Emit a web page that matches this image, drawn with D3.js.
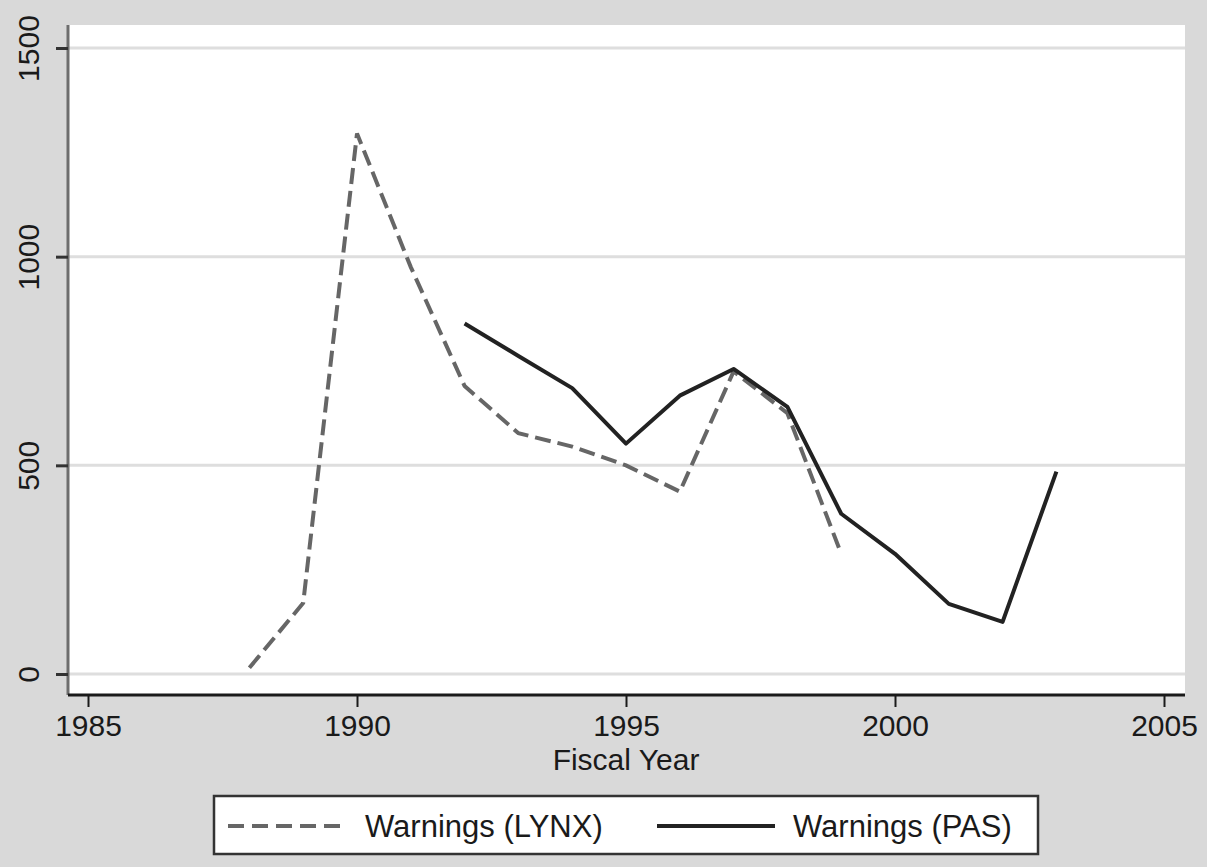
<!DOCTYPE html>
<html>
<head>
<meta charset="utf-8">
<script src="https://cdn.jsdelivr.net/npm/d3@7"></script>
<style>
  body { margin: 0; background: #d9d9d9; }
  text { font-family: "Liberation Sans", Arial, sans-serif; fill: #1a1a1a; }
</style>
</head>
<body>
<div id="chart"></div>
<script>
// data
const lynxYears = [1988, 1989, 1990, 1991, 1992, 1993, 1994, 1995, 1996, 1997, 1998, 1999];
const lynxWarnings = [15, 170, 1295, 975, 690, 577, 545, 500, 437, 725, 625, 288];
const pasYears = [1992, 1993, 1994, 1995, 1996, 1997, 1998, 1999, 2000, 2001, 2002, 2003];
const pasWarnings = [840, 762, 685, 552, 667, 731, 640, 384, 288, 168, 125, 485];
const xTicks = [1985, 1990, 1995, 2000, 2005];
const yTicks = [0, 500, 1000, 1500];
const legendLabels = ["Warnings (LYNX)", "Warnings (PAS)"];

const ctx = {
    w: 1207, h: 867,
    plot: {left: 68, right: 1185, top: 25, bottom: 695},
    fontSize: 30
};

function drawChart() {
    let svg = d3.select("#chart").append("svg")
        .attr("width", ctx.w)
        .attr("height", ctx.h);

    svg.append("rect")
        .attr("width", ctx.w).attr("height", ctx.h)
        .attr("fill", "#d9d9d9");

    // plot region
    svg.append("rect")
        .attr("x", ctx.plot.left)
        .attr("y", ctx.plot.top)
        .attr("width", ctx.plot.right - ctx.plot.left)
        .attr("height", ctx.plot.bottom - ctx.plot.top)
        .attr("fill", "#ffffff");

    let x = d3.scaleLinear().domain([1985, 2005]).range([88, 1164]);
    let y = d3.scaleLinear().domain([0, 1500]).range([674, 48]);

    // grid lines
    svg.append("g").selectAll("line")
        .data(yTicks)
        .enter().append("line")
        .attr("x1", ctx.plot.left).attr("x2", ctx.plot.right)
        .attr("y1", d => y(d)).attr("y2", d => y(d))
        .attr("stroke", "#dedede")
        .attr("stroke-width", 3);

    // y axis
    let yAxis = svg.append("g")
        .attr("transform", "translate(" + ctx.plot.left + ",0)")
        .call(d3.axisLeft(y).tickValues(yTicks).tickSize(12).tickFormat(d3.format("d")));
    yAxis.select(".domain")
        .attr("d", "M0," + ctx.plot.top + "V" + ctx.plot.bottom)
        .attr("stroke", "#6e6e6e")
        .attr("stroke-width", 3);
    yAxis.selectAll(".tick line").attr("stroke", "#333").attr("stroke-width", 3);
    // rotated labels, baseline 29px left of the axis
    yAxis.selectAll(".tick text")
        .attr("font-size", ctx.fontSize)
        .attr("font-family", "Liberation Sans, Arial, sans-serif")
        .attr("fill", "#1a1a1a")
        .attr("transform", "translate(-29,0) rotate(-90)")
        .attr("x", 0)
        .attr("y", 0)
        .attr("dy", 0)
        .attr("text-anchor", "middle");

    // x axis
    let xAxis = svg.append("g")
        .attr("transform", "translate(0," + ctx.plot.bottom + ")")
        .call(d3.axisBottom(x).tickValues(xTicks).tickSize(12).tickPadding(8).tickFormat(d3.format("d")));
    xAxis.select(".domain")
        .attr("d", "M" + ctx.plot.left + ",0H" + ctx.plot.right)
        .attr("stroke", "#1a1a1a")
        .attr("stroke-width", 3);
    xAxis.selectAll(".tick line").attr("stroke", "#1a1a1a").attr("stroke-width", 2);
    xAxis.selectAll(".tick text")
        .attr("font-size", ctx.fontSize)
        .attr("font-family", "Liberation Sans, Arial, sans-serif")
        .attr("fill", "#1a1a1a")
        .attr("dy", "0.71em");

    svg.append("text")
        .attr("x", 626)
        .attr("y", 770)
        .attr("text-anchor", "middle")
        .attr("font-size", ctx.fontSize)
        .text("Fiscal Year");

    // lines
    let line = d3.line()
        .x(d => x(d[0]))
        .y(d => y(d[1]));

    svg.append("path")
        .datum(d3.zip(lynxYears, lynxWarnings))
        .attr("fill", "none")
        .attr("stroke", "#666666")
        .attr("stroke-width", 4)
        .attr("stroke-dasharray", "16,7")
        .attr("d", line);

    svg.append("path")
        .datum(d3.zip(pasYears, pasWarnings))
        .attr("fill", "none")
        .attr("stroke", "#222222")
        .attr("stroke-width", 4)
        .attr("stroke-linejoin", "round")
        .attr("d", line);

    // legend
    let legendG = svg.append("g");
    legendG.append("rect")
        .attr("x", 214).attr("y", 796)
        .attr("width", 824).attr("height", 58)
        .attr("fill", "#ffffff")
        .attr("stroke", "#333333")
        .attr("stroke-width", 2.5);

    legendG.append("line")
        .attr("x1", 228).attr("x2", 348)
        .attr("y1", 826).attr("y2", 826)
        .attr("stroke", "#666666")
        .attr("stroke-width", 4)
        .attr("stroke-dasharray", "16,8");
    legendG.append("text")
        .attr("x", 365).attr("y", 837)
        .attr("font-size", 31)
        .text(legendLabels[0]);

    legendG.append("line")
        .attr("x1", 657).attr("x2", 775)
        .attr("y1", 826).attr("y2", 826)
        .attr("stroke", "#222222")
        .attr("stroke-width", 4);
    legendG.append("text")
        .attr("x", 793).attr("y", 837)
        .attr("font-size", 31)
        .text(legendLabels[1]);
}

drawChart();
</script>
</body>
</html>
